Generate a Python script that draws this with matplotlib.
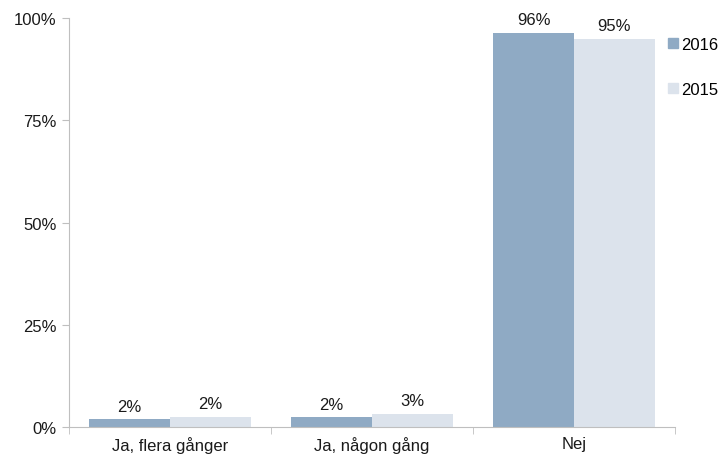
import numpy as np
import matplotlib.pyplot as plt
from matplotlib.patches import Patch

plt.rcParams['font.family'] = ['Liberation Sans', 'DejaVu Sans']

categories = ['Ja, flera gånger', 'Ja, någon gång', 'Nej']
series_names = ['2016', '2015']
values_2016 = [1.8, 2.3, 96.4]
values_2015 = [2.4, 3.2, 95.0]
colors = ['#8faac4', '#dce3ec']

fs = 12
fig = plt.figure(figsize=(7.22, 4.56), dpi=100)
ax = fig.add_axes([0.0956, 0.062, 0.8394, 0.8957])

x = np.arange(len(categories))
w = 0.4
for vals, off, c in [(values_2016, -w / 2, colors[0]), (values_2015, w / 2, colors[1])]:
    bars = ax.bar(x + off, vals, width=w, color=c)
    for b, v in zip(bars, vals):
        ax.annotate(f'{v:.0f}%', (b.get_x() + b.get_width() / 2, v),
                    xytext=(0, 4), textcoords='offset points',
                    ha='center', va='bottom', fontsize=fs, color='#1a1a1a')

ax.set_xlim(-0.5, len(categories) - 0.5)
ax.set_ylim(0, 100)
ax.set_yticks([0, 25, 50, 75, 100])
ax.set_yticklabels([f'{t}%' for t in [0, 25, 50, 75, 100]])
ax.set_xticks(x)
ax.set_xticklabels(categories)
ax.set_xticks(np.arange(len(categories) + 1) - 0.5, minor=True)
ax.tick_params(axis='x', which='major', length=0, labelsize=fs, pad=7, labelcolor='#1a1a1a')
ax.tick_params(axis='x', which='minor', length=5, color='#bfbfbf', direction='out')
ax.tick_params(axis='y', length=5, color='#bfbfbf', labelsize=fs, labelcolor='#1a1a1a', pad=4)

for s in ['top', 'right']:
    ax.spines[s].set_visible(False)
for s in ['left', 'bottom']:
    ax.spines[s].set_color('#bfbfbf')

handles = [Patch(color=c, label=n) for c, n in zip(colors, series_names)]
fig.legend(handles=handles, loc='upper left', bbox_to_anchor=(0.905, 0.95),
           frameon=False, fontsize=fs, handlelength=0.55, handleheight=0.55,
           handletextpad=0.2, labelspacing=1.8)

fig.savefig('out.png', dpi=100)
